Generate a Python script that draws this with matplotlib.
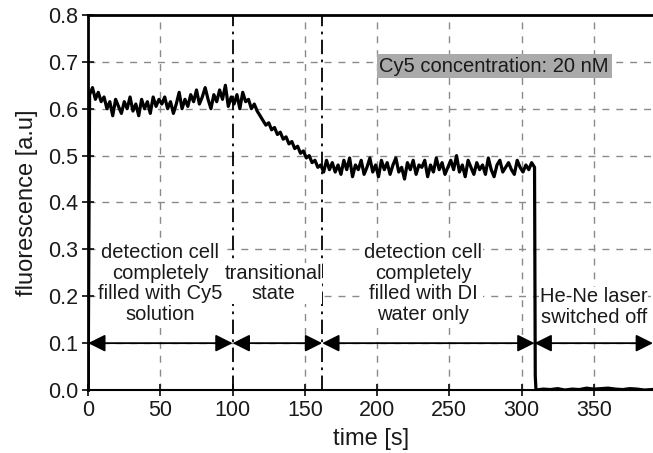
import numpy as np
import matplotlib
matplotlib.use("Agg")
import matplotlib.pyplot as plt

plt.rcParams["font.family"] = ["Liberation Sans", "DejaVu Sans"]

# ---------------------------------------------------------------------------
# Data
# ---------------------------------------------------------------------------
# laser on, sampled every 2 s starting at t = 1 s
signal_on = [
    0.63, 0.645, 0.62, 0.635, 0.615, 0.625,
    0.60, 0.615, 0.585, 0.62, 0.605, 0.59, 0.615, 0.60, 0.625, 0.595,
    0.61, 0.585, 0.62, 0.60, 0.615, 0.59, 0.625, 0.605, 0.62, 0.61,
    0.625, 0.60, 0.615, 0.59, 0.61, 0.635, 0.60, 0.62, 0.605, 0.63,
    0.615, 0.64, 0.61, 0.625, 0.645, 0.62, 0.60, 0.63, 0.615, 0.64,
    0.62, 0.65, 0.605, 0.625, 0.61, 0.63, 0.60, 0.635, 0.615, 0.62,
    0.60, 0.61, 0.595, 0.585, 0.575, 0.565, 0.57, 0.555, 0.56, 0.545,
    0.55, 0.535, 0.54, 0.525, 0.53, 0.515, 0.52, 0.505, 0.51, 0.495,
    0.50, 0.485, 0.49, 0.475, 0.48, 0.465, 0.49, 0.47, 0.485, 0.465,
    0.48, 0.46, 0.49, 0.47, 0.495, 0.455, 0.48, 0.47, 0.49, 0.46,
    0.475, 0.495, 0.465, 0.48, 0.455, 0.49, 0.47, 0.485, 0.46, 0.48,
    0.495, 0.465, 0.475, 0.45, 0.485, 0.47, 0.49, 0.46, 0.48, 0.475,
    0.49, 0.455, 0.48, 0.465, 0.495, 0.47, 0.485, 0.46, 0.475, 0.49,
    0.47, 0.50, 0.465, 0.48, 0.455, 0.49, 0.475, 0.46, 0.485, 0.47,
    0.48, 0.46, 0.495, 0.47, 0.455, 0.48, 0.49, 0.465, 0.475, 0.485,
    0.47, 0.46, 0.49, 0.475, 0.465, 0.48, 0.47, 0.485, 0.475,
]
time_on = np.arange(len(signal_on)) * 2 + 1

# laser off
time_off = [309.5, 310, 315, 320, 325, 330, 335, 340, 345, 350,
            355, 360, 365, 370, 375, 380, 385, 390]
signal_off = [0.03, 0.0, 0.002, 0.001, 0.003, 0.0, 0.002, 0.001, 0.004, 0.002,
              0.003, 0.004, 0.002, 0.001, 0.003, 0.002, 0.0, 0.001]

time_s = np.concatenate([[0.0], time_on, time_off])
fluor = np.concatenate([[0.0], signal_on, signal_off])

phase_bounds = [0, 100, 162, 309, 391]
phase_labels = [
    "detection cell\ncompletely\nfilled with Cy5\nsolution",
    "transitional\nstate",
    "detection cell\ncompletely\nfilled with DI\nwater only",
    "He-Ne laser\nswitched off",
]
label_x = [50, 128, 232, 350]
label_y = [0.227, 0.227, 0.227, 0.177]

# ---------------------------------------------------------------------------
# Figure
# ---------------------------------------------------------------------------
fig = plt.figure(figsize=(6.53, 4.53), dpi=100)
ax = fig.add_axes([0.135, 0.139, 0.865, 0.828])

grid_kw = dict(color="#8a8a8a", lw=1.0, ls=(0, (5, 5)), zorder=1)
for y in [0.1, 0.2, 0.3, 0.4, 0.5, 0.6, 0.7]:
    ax.axhline(y, **grid_kw)
for x in [50, 150, 200, 250, 300, 350]:
    ax.axvline(x, **grid_kw)

# phase boundaries
for x in [100, 162]:
    ax.axvline(x, color="black", lw=1.3, ls=(0, (8, 3, 1.5, 3)), zorder=2)

ax.plot(time_s, fluor, color="black", lw=2.3, zorder=3)

# double arrows at 0.1
for x0, x1 in zip(phase_bounds[:-1], phase_bounds[1:]):
    ax.annotate("", xy=(x1, 0.1), xytext=(x0, 0.1),
                arrowprops=dict(arrowstyle="<|-|>", color="black", lw=1.3,
                                mutation_scale=26, shrinkA=0, shrinkB=0),
                zorder=4)

for x, y, s in zip(label_x, label_y, phase_labels):
    ax.text(x, y, s, ha="center", va="center", fontsize=14.5, color="#1a1a1a",
            linespacing=1.1, zorder=5,
            bbox=dict(facecolor="white", edgecolor="none", pad=0.5))

ax.text(281, 0.691, "Cy5 concentration: 20 nM", ha="center", va="center",
        fontsize=14.5, color="#1a1a1a", zorder=5,
        bbox=dict(facecolor="#aaaaaa", edgecolor="none", pad=2))

ax.set_xlim(0, 391)
ax.set_ylim(0, 0.8)
ax.set_xticks([0, 50, 100, 150, 200, 250, 300, 350])
ax.set_yticks([0.0, 0.1, 0.2, 0.3, 0.4, 0.5, 0.6, 0.7, 0.8])
ax.set_yticklabels([f"{v:.1f}" for v in ax.get_yticks()])
ax.tick_params(direction="inout", length=8, width=1.3, labelsize=15.5,
               colors="#1a1a1a", pad=3)

ax.spines["right"].set_visible(False)
ax.spines["top"].set_linewidth(2.0)
ax.spines["left"].set_linewidth(2.0)
ax.spines["bottom"].set_linewidth(1.5)

ax.set_xlabel("time [s]", fontsize=17, color="#1a1a1a", labelpad=5)
ax.set_ylabel("fluorescence [a.u]", fontsize=17, color="#1a1a1a", labelpad=7)

fig.savefig("out.png", dpi=100)
